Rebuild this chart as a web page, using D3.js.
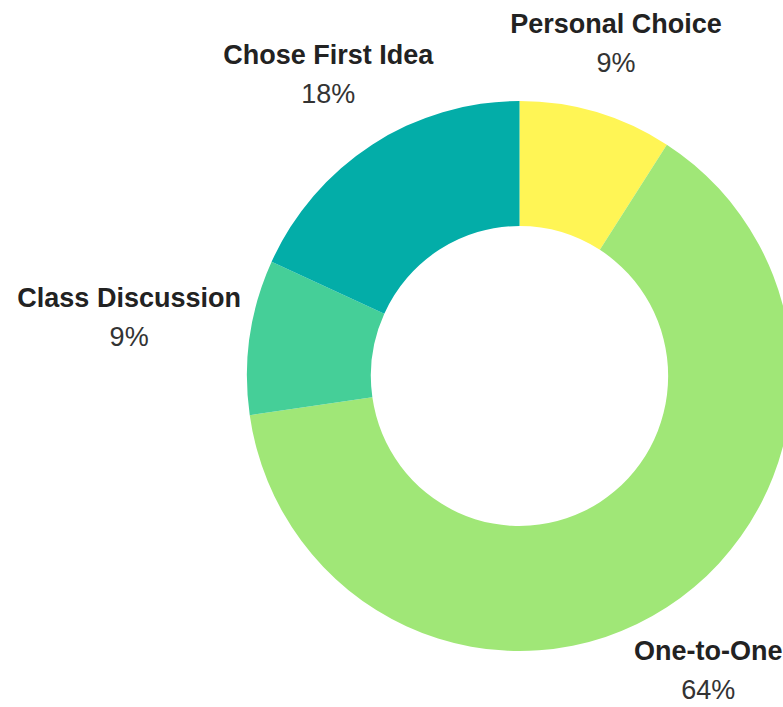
<!DOCTYPE html>
<html>
<head>
<meta charset="utf-8">
<script src="https://cdn.jsdelivr.net/npm/d3@7"></script>
<style>
  html, body { margin: 0; padding: 0; background: #fff; overflow: hidden; }
  svg { display: block; }
</style>
</head>
<body>
<div id="chart"></div>
<script>
    "use strict";

    // Data (counts: 1/11, 7/11, 1/11, 2/11)
    var categories = ["Personal Choice", "One-to-One", "Class Discussion", "Chose First Idea"];
    var counts = [1, 7, 1, 2];
    var colors = ["#fff555", "#a0e777", "#45cf98", "#03ada8"];

    var width = 783, height = 707;
    var cx = 519.5, cy = 376;
    var outerR = 275, innerR = 150;
    var squeezeX = 0.991; // the reference ring is a touch narrower than tall
    var labelR = 341;     // base distance of label centres from the middle

    var svg = d3.select("#chart")
        .append("svg")
        .attr("width", width)
        .attr("height", height);

    var g = svg.append("g")
        .attr("transform", "translate(" + cx + "," + cy + ")");

    var total = d3.sum(counts);
    var pie = d3.pie().sort(null).value(function (d) { return d; });
    var arc = d3.arc().innerRadius(innerR).outerRadius(outerR);
    var color = d3.scaleOrdinal(categories, colors);
    var fmt = d3.format(".0%");

    var data_ready = pie(counts);

    g.append("g")
        .attr("transform", "scale(" + squeezeX + ",1)")
        .selectAll("path")
        .data(data_ready)
        .enter()
        .append("path")
        .attr("d", arc)
        .style("fill", function (d, i) { return color(categories[i]); });

    // Labels: name (bold) + percentage, placed along the slice mid angle
    var labels = g.selectAll("g.label")
        .data(data_ready)
        .enter()
        .append("g")
        .attr("class", "label");

    labels.append("text")
        .attr("text-anchor", "middle")
        .attr("y", -4)
        .style("font-family", "'Liberation Sans', Arial, sans-serif")
        .style("font-size", "27px")
        .style("font-weight", "bold")
        .style("fill", "#222")
        .text(function (d, i) { return categories[i]; });

    labels.append("text")
        .attr("text-anchor", "middle")
        .attr("y", 35)
        .style("font-family", "'Liberation Sans', Arial, sans-serif")
        .style("font-size", "27px")
        .style("fill", "#333")
        .text(function (d) { return fmt(d.data / total); });

    labels.each(function (d) {
        var bb = this.getBBox();
        var hw = bb.width / 2;
        var mid = (d.startAngle + d.endAngle) / 2;
        var s = Math.sin(mid), c = -Math.cos(mid);
        // wide labels near 3/9 o'clock get pushed further out
        var dist = labelR + 0.52 * hw * s * s;
        d3.select(this).attr("transform",
            "translate(" + (s * dist * squeezeX) + "," + (c * dist - 8) + ")");
    });
</script>
</body>
</html>
